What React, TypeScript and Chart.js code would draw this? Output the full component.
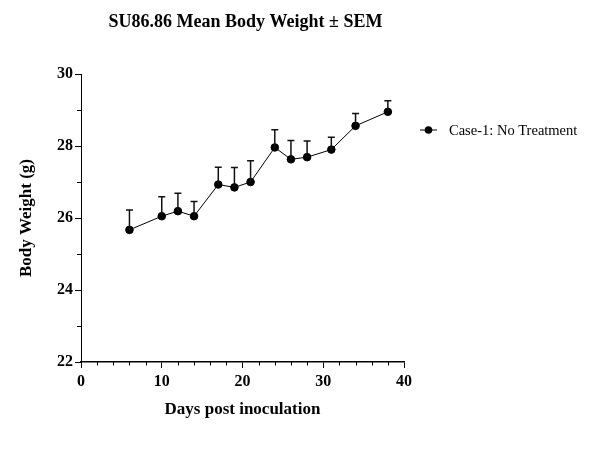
import React, { useEffect, useRef } from "react";
import { Chart, registerables } from "chart.js";

Chart.register(...registerables);

const days = [6, 10, 12, 14, 17, 19, 21, 24, 26, 28, 31, 34, 38];
const meanWeight = [25.67, 26.05, 26.19, 26.05, 26.93, 26.85, 27.0, 27.96, 27.63, 27.69, 27.9, 28.56, 28.95];
const semWeight = [0.55, 0.54, 0.5, 0.41, 0.48, 0.55, 0.59, 0.49, 0.52, 0.45, 0.34, 0.34, 0.31];
const seriesName = "Case-1: No Treatment";
const chartTitle = "SU86.86 Mean Body Weight \u00b1 SEM";
const xTitle = "Days post inoculation";
const yTitle = "Body Weight (g)";
const xMinorTicks = [2, 4, 6, 8, 12, 14, 16, 18, 22, 24, 26, 28, 32, 34, 36, 38];
const yMinorTicks = [23, 25, 27, 29];

const SERIF = "'Liberation Serif', 'Times New Roman', serif";

export default function App() {
  const ref = useRef<HTMLCanvasElement | null>(null);

  useEffect(() => {
    document.body.style.margin = "0";
    const canvas = ref.current;
    if (!canvas) return;

    const extras = {
      id: "extras",
      afterDatasetsDraw(chart: any) {
        const { ctx } = chart;
        const meta = chart.getDatasetMeta(0);
        const yScale = chart.scales.y;
        ctx.save();
        ctx.strokeStyle = "#111";
        ctx.lineWidth = 1.5;
        meta.data.forEach((pt: any, i: number) => {
          const x = pt.x;
          const y0 = pt.y;
          const y1 = yScale.getPixelForValue(meanWeight[i] + semWeight[i]);
          ctx.beginPath();
          ctx.moveTo(x, y0);
          ctx.lineTo(x, y1);
          ctx.moveTo(x - 3.5, y1);
          ctx.lineTo(x + 3.5, y1);
          ctx.stroke();
        });
        ctx.restore();
      },
      afterDraw(chart: any) {
        const { ctx, chartArea, scales } = chart;
        ctx.save();
        // minor ticks
        ctx.strokeStyle = "#000";
        ctx.lineWidth = 1;
        ctx.beginPath();
        xMinorTicks.forEach((v) => {
          const px = Math.round(scales.x.getPixelForValue(v)) + 0.5;
          ctx.moveTo(px, chartArea.bottom);
          ctx.lineTo(px, chartArea.bottom + 3.5);
        });
        yMinorTicks.forEach((v) => {
          const py = Math.round(scales.y.getPixelForValue(v)) + 0.5;
          ctx.moveTo(chartArea.left, py);
          ctx.lineTo(chartArea.left - 4, py);
        });
        ctx.stroke();
        // title
        ctx.fillStyle = "#000";
        ctx.font = `bold 18px ${SERIF}`;
        ctx.textAlign = "center";
        ctx.textBaseline = "middle";
        ctx.fillText(chartTitle, (chartArea.left + chartArea.right) / 2 + 3, 22);
        // legend
        const lx = 420;
        const ly = 130;
        ctx.strokeStyle = "#000";
        ctx.lineWidth = 1;
        ctx.beginPath();
        ctx.moveTo(lx, ly);
        ctx.lineTo(lx + 17, ly);
        ctx.stroke();
        ctx.beginPath();
        ctx.arc(lx + 8.5, ly, 3.8, 0, Math.PI * 2);
        ctx.fillStyle = "#000";
        ctx.fill();
        ctx.font = `14.5px ${SERIF}`;
        ctx.textAlign = "left";
        ctx.fillText(seriesName, lx + 29, ly + 1);
        ctx.restore();
      },
    };

    const chart = new Chart(canvas, {
      type: "line",
      data: {
        datasets: [
          {
            label: seriesName,
            data: days.map((d, i) => ({ x: d, y: meanWeight[i] })),
            borderColor: "#000",
            backgroundColor: "#000",
            borderWidth: 1,
            pointRadius: 3.8,
            pointBackgroundColor: "#000",
            pointBorderColor: "#000",
            tension: 0,
          },
        ],
      },
      options: {
        animation: false,
        responsive: false,
        layout: { padding: { top: 74, right: 186, left: 0, bottom: 0 } },
        plugins: {
          legend: { display: false },
          title: { display: false },
          tooltip: { enabled: false },
        },
        scales: {
          x: {
            type: "linear",
            min: 0,
            max: 40,
            afterFit: (s: any) => {
              s.height = 91;
            },
            border: { display: true, color: "#000", width: 1.5 },
            grid: {
              drawOnChartArea: false,
              drawTicks: true,
              tickLength: 6,
              color: "#000",
              lineWidth: 1,
            },
            ticks: {
              stepSize: 10,
              autoSkip: false,
              maxRotation: 0,
              padding: 4,
              color: "#000",
              font: { family: SERIF, size: 16, weight: "bold" },
            },
            title: {
              display: true,
              text: xTitle,
              color: "#000",
              font: { family: SERIF, size: 17, weight: "bold" },
              padding: { top: 0, bottom: 33 },
            },
          },
          y: {
            type: "linear",
            min: 22,
            max: 30,
            afterFit: (s: any) => {
              s.width = 81;
            },
            border: { display: true, color: "#000", width: 1 },
            grid: {
              drawOnChartArea: false,
              drawTicks: true,
              tickLength: 6,
              color: "#000",
              lineWidth: 1,
            },
            ticks: {
              stepSize: 2,
              autoSkip: false,
              padding: 2,
              color: "#000",
              font: { family: SERIF, size: 16, weight: "bold" },
            },
            title: {
              display: true,
              text: yTitle,
              color: "#000",
              font: { family: SERIF, size: 17, weight: "bold" },
              padding: { top: 16, bottom: 0 },
            },
          },
        },
      },
      plugins: [extras],
    } as any);

    return () => chart.destroy();
  }, []);

  return (
    <div style={{ width: 590, height: 453, background: "#fff" }}>
      <canvas ref={ref} width={590} height={453} style={{ display: "block" }} />
    </div>
  );
}
